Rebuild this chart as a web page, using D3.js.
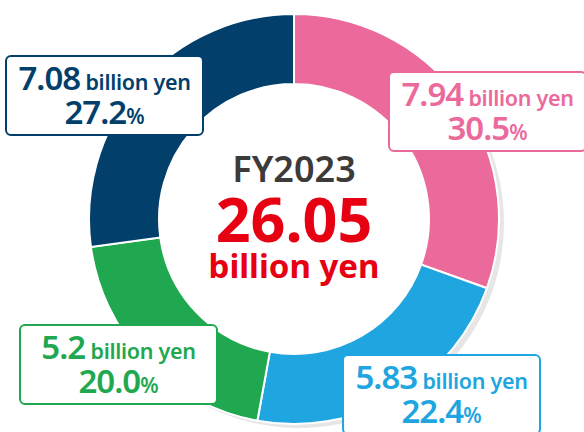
<!DOCTYPE html>
<html>
<head>
<meta charset="utf-8">
<script src="https://cdn.jsdelivr.net/npm/d3@7"></script>
<style>
  body { margin: 0; background: #fff; }
  text { font-family: "Noto Sans", sans-serif; font-weight: 700; }
</style>
</head>
<body>
<div id="chart"></div>
<script>
// data
var segments = ["A", "B", "C", "D"];
var values = [7.94, 5.83, 5.2, 7.08];
var colors = ["#eb6a9b", "#1fa5df", "#1fa850", "#023f6b"];
var unitLabel = "billion yen";
var centerYear = "FY2023";
var centerTotal = "26.05";

// label boxes (layout only)
var boxes = [
    {x: 389, y: 72},
    {x: 343, y: 355},
    {x: 20, y: 325},
    {x: 6, y: 56}
];

var width = 584, height = 432;
var cx = 294, cy = 219;
var rOut = 205, rIn = 135;

var svg = d3.select("#chart")
    .append("svg")
    .attr("width", width)
    .attr("height", height);

var total = d3.sum(values);
var fmtPct = d3.format(".1f");

var pie = d3.pie()
    .sort(null)
    .value(function(d) { return d; });

var arc = d3.arc()
    .innerRadius(rIn)
    .outerRadius(rOut);

// shadow behind the ring
svg.append("circle")
    .attr("cx", cx + 5)
    .attr("cy", cy + 4)
    .attr("r", rOut)
    .style("fill", "#e6e6e6");

var g = svg.append("g")
    .attr("transform", "translate(" + cx + "," + cy + ")");

g.append("circle")
    .attr("r", rIn)
    .style("fill", "#fff");

g.selectAll("path")
    .data(pie(values))
    .enter()
    .append("path")
        .attr("d", arc)
        .style("fill", function(d, i) { return colors[i]; })
        .style("stroke", "#fff")
        .style("stroke-width", 2);

// center text
g.append("text")
    .attr("text-anchor", "middle")
    .attr("y", -37)
    .style("font-size", "36px")
    .style("font-weight", 600)
    .style("fill", "#3d3a3a")
    .text(centerYear);

g.append("text")
    .attr("text-anchor", "middle")
    .attr("y", 23)
    .style("font-size", "61px")
    .style("fill", "#e60012")
    .text(centerTotal);

g.append("text")
    .attr("text-anchor", "middle")
    .attr("y", 59)
    .style("font-size", "33px")
    .style("fill", "#e60012")
    .text(unitLabel);

// label boxes
var bw = 197, bh = 79;
var lab = svg.selectAll("g.lab")
    .data(values)
    .enter()
    .append("g")
        .attr("class", "lab")
        .attr("transform", function(d, i) { return "translate(" + boxes[i].x + "," + boxes[i].y + ")"; });

lab.append("rect")
    .attr("width", bw)
    .attr("height", bh)
    .attr("rx", 5)
    .style("fill", "#fff")
    .style("stroke", function(d, i) { return colors[i]; })
    .style("stroke-width", 2);

var line1 = lab.append("text")
    .attr("x", bw / 2)
    .attr("y", 34)
    .attr("text-anchor", "middle")
    .style("fill", function(d, i) { return colors[i]; });
line1.append("tspan")
    .style("font-size", "33px")
    .style("font-weight", 600)
    .style("letter-spacing", "-1px")
    .text(function(d) { return String(d); });
line1.append("tspan")
    .style("font-size", "21.5px")
    .style("font-weight", 600)
    .style("letter-spacing", "-0.3px")
    .text(" " + unitLabel);

var line2 = lab.append("text")
    .attr("x", bw / 2)
    .attr("y", 68)
    .attr("text-anchor", "middle")
    .style("fill", function(d, i) { return colors[i]; });
line2.append("tspan")
    .style("font-size", "33px")
    .style("font-weight", 600)
    .style("letter-spacing", "-1px")
    .text(function(d) { return fmtPct(d / total * 100); });
line2.append("tspan")
    .style("font-size", "21px")
    .style("font-weight", 600)
    .text("%");
</script>
</body>
</html>
